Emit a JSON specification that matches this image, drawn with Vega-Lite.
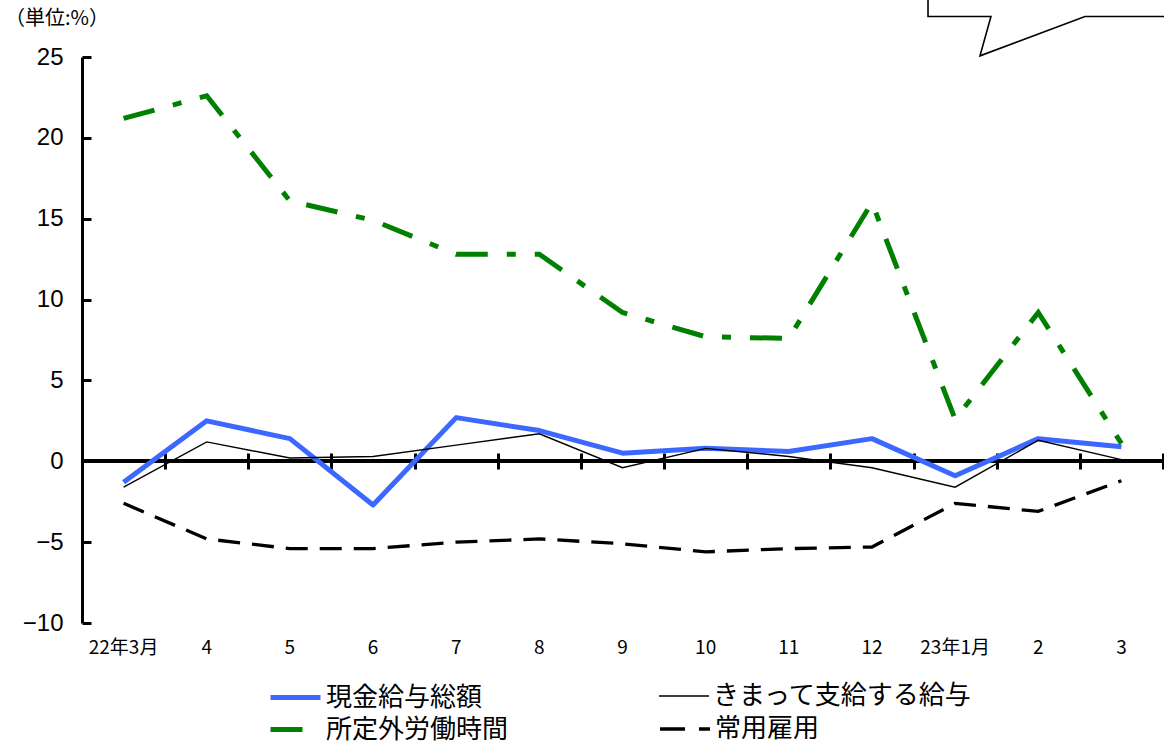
{
  "$schema": "https://vega.github.io/schema/vega-lite/v6.json",
  "width": 1081,
  "height": 566,
  "autosize": {"type": "none"},
  "padding": {"left": 82, "top": 57, "right": 1, "bottom": 120},
  "background": "white",
  "config": {
    "view": {"stroke": null},
    "font": "Liberation Sans",
    "title": {"fontSize": 20, "font": "Noto Sans CJK JP", "fontWeight": "normal", "color": "black"},
    "legend": {
      "orient": "none",
      "padding": 0,
      "symbolType": "stroke",
      "symbolSize": 2500,
      "labelFont": "Noto Sans CJK JP",
      "labelFontSize": 26,
      "labelColor": "black",
      "labelOffset": 3,
      "labelLimit": 400
    }
  },
  "title": {
    "text": "（単位:%）",
    "anchor": "start",
    "frame": "group",
    "dx": -77,
    "offset": 0,
    "dy": 53,
    "baseline": "bottom",
    "fontSize": 20
  },
  "datasets": {
    "series": [
      {"month": "22年3月", "series": "現金給与総額", "value": -1.3},
      {"month": "4", "series": "現金給与総額", "value": 2.5},
      {"month": "5", "series": "現金給与総額", "value": 1.4},
      {"month": "6", "series": "現金給与総額", "value": -2.7},
      {"month": "7", "series": "現金給与総額", "value": 2.7},
      {"month": "8", "series": "現金給与総額", "value": 1.9},
      {"month": "9", "series": "現金給与総額", "value": 0.5},
      {"month": "10", "series": "現金給与総額", "value": 0.8},
      {"month": "11", "series": "現金給与総額", "value": 0.6},
      {"month": "12", "series": "現金給与総額", "value": 1.4},
      {"month": "23年1月", "series": "現金給与総額", "value": -0.9},
      {"month": "2", "series": "現金給与総額", "value": 1.4},
      {"month": "3", "series": "現金給与総額", "value": 0.9},
      {"month": "22年3月", "series": "きまって支給する給与", "value": -1.6},
      {"month": "4", "series": "きまって支給する給与", "value": 1.2},
      {"month": "5", "series": "きまって支給する給与", "value": 0.2},
      {"month": "6", "series": "きまって支給する給与", "value": 0.3},
      {"month": "7", "series": "きまって支給する給与", "value": 1.0},
      {"month": "8", "series": "きまって支給する給与", "value": 1.7},
      {"month": "9", "series": "きまって支給する給与", "value": -0.4},
      {"month": "10", "series": "きまって支給する給与", "value": 0.8},
      {"month": "11", "series": "きまって支給する給与", "value": 0.3},
      {"month": "12", "series": "きまって支給する給与", "value": -0.4},
      {"month": "23年1月", "series": "きまって支給する給与", "value": -1.6},
      {"month": "2", "series": "きまって支給する給与", "value": 1.3},
      {"month": "3", "series": "きまって支給する給与", "value": 0.1},
      {"month": "22年3月", "series": "所定外労働時間", "value": 21.2},
      {"month": "4", "series": "所定外労働時間", "value": 22.6},
      {"month": "5", "series": "所定外労働時間", "value": 16.1},
      {"month": "6", "series": "所定外労働時間", "value": 14.9},
      {"month": "7", "series": "所定外労働時間", "value": 12.8},
      {"month": "8", "series": "所定外労働時間", "value": 12.8},
      {"month": "9", "series": "所定外労働時間", "value": 9.2},
      {"month": "10", "series": "所定外労働時間", "value": 7.7},
      {"month": "11", "series": "所定外労働時間", "value": 7.6},
      {"month": "12", "series": "所定外労働時間", "value": 16.0},
      {"month": "23年1月", "series": "所定外労働時間", "value": 2.6},
      {"month": "2", "series": "所定外労働時間", "value": 9.2},
      {"month": "3", "series": "所定外労働時間", "value": 1.1},
      {"month": "22年3月", "series": "常用雇用", "value": -2.6},
      {"month": "4", "series": "常用雇用", "value": -4.8},
      {"month": "5", "series": "常用雇用", "value": -5.4},
      {"month": "6", "series": "常用雇用", "value": -5.4},
      {"month": "7", "series": "常用雇用", "value": -5.0},
      {"month": "8", "series": "常用雇用", "value": -4.8},
      {"month": "9", "series": "常用雇用", "value": -5.1},
      {"month": "10", "series": "常用雇用", "value": -5.6},
      {"month": "11", "series": "常用雇用", "value": -5.4},
      {"month": "12", "series": "常用雇用", "value": -5.3},
      {"month": "23年1月", "series": "常用雇用", "value": -2.6},
      {"month": "2", "series": "常用雇用", "value": -3.1},
      {"month": "3", "series": "常用雇用", "value": -1.2}
    ],
    "callout": [
      {"ord": 0, "cx": 10.174, "cy": 28.6},
      {"ord": 1, "cx": 10.174, "cy": 27.5},
      {"ord": 2, "cx": 10.931, "cy": 27.5},
      {"ord": 3, "cx": 10.799, "cy": 25.07},
      {"ord": 4, "cx": 12.062, "cy": 27.5},
      {"ord": 5, "cx": 13.05, "cy": 27.5}
    ]
  },
  "layer": [
    {
      "data": {"name": "series"},
      "encoding": {
        "x": {
          "field": "month",
          "type": "nominal",
          "sort": ["22年3月", "4", "5", "6", "7", "8", "9", "10", "11", "12", "23年1月", "2", "3"],
          "scale": {"type": "band", "paddingInner": 0, "paddingOuter": 0},
          "axis": null
        },
        "y": {"field": "value", "type": "quantitative", "scale": {"domain": [-10, 25], "nice": false, "zero": false}}
      },
      "layer": [
        {
          "mark": {"type": "rule", "color": "black", "strokeWidth": 3.3},
          "encoding": {
            "x": null,
            "y": {"datum": 0, "type": "quantitative"}
          }
        },
        {
          "mark": {"type": "point", "opacity": 0},
          "encoding": {
            "x": {
              "field": "month",
              "type": "nominal",
              "sort": ["22年3月", "4", "5", "6", "7", "8", "9", "10", "11", "12", "23年1月", "2", "3"],
              "scale": {"type": "band", "paddingInner": 0, "paddingOuter": 0},
              "axis": {
                "orient": "bottom",
                "offset": -170,
                "domain": false,
                "labels": false,
                "grid": false,
                "ticks": true,
                "tickBand": "extent",
                "tickSize": 16,
                "tickWidth": 3,
                "tickColor": "black",
                "title": null
              }
            }
          }
        },
        {
          "transform": [{"filter": "datum.series === '現金給与総額'"}],
          "mark": {"type": "line", "strokeWidth": 5, "strokeCap": "butt", "strokeJoin": "round"},
          "encoding": {
            "x": {
              "field": "month",
              "type": "nominal",
              "sort": ["22年3月", "4", "5", "6", "7", "8", "9", "10", "11", "12", "23年1月", "2", "3"],
              "scale": {"type": "band", "paddingInner": 0, "paddingOuter": 0},
              "axis": {
                "orient": "bottom",
                "domain": false,
                "ticks": false,
                "grid": false,
                "labelAngle": 0,
                "labelPadding": 15,
                "labelFont": "Noto Sans CJK JP",
                "labelFontSize": 19,
                "labelColor": "black",
                "title": null
              }
            },
            "y": {
              "field": "value",
              "type": "quantitative",
              "axis": {
                "values": [-10, -5, 0, 5, 10, 15, 20, 25],
                "grid": false,
                "domainColor": "black",
                "domainWidth": 3,
                "tickColor": "black",
                "tickWidth": 3,
                "tickSize": -9,
                "labelPadding": 28,
                "labelFont": "Liberation Sans",
                "labelFontSize": 24,
                "labelColor": "black",
                "title": null
              }
            },
            "color": {
              "datum": "現金給与総額",
              "type": "nominal",
              "scale": {"range": ["#3d68ff"]},
              "legend": {"title": null, "legendX": 186, "legendY": 613, "symbolStrokeWidth": 5}
            }
          }
        },
        {
          "transform": [{"filter": "datum.series === 'きまって支給する給与'"}],
          "mark": {"type": "line", "strokeWidth": 1.4, "strokeCap": "butt", "strokeJoin": "miter"},
          "encoding": {
            "color": {
              "datum": "きまって支給する給与",
              "type": "nominal",
              "scale": {"range": ["black"]},
              "legend": {"title": null, "legendX": 576, "legendY": 613, "symbolStrokeWidth": 1.4}
            }
          }
        },
        {
          "transform": [{"filter": "datum.series === '所定外労働時間'"}],
          "mark": {"type": "line", "strokeWidth": 5, "strokeDash": [32, 19, 9, 19], "strokeCap": "butt", "strokeJoin": "miter"},
          "encoding": {
            "color": {
              "datum": "所定外労働時間",
              "type": "nominal",
              "scale": {"range": ["#008000"]},
              "legend": {"title": null, "legendX": 186, "legendY": 645, "symbolStrokeWidth": 5, "symbolDash": [32, 19, 9, 19]}
            }
          }
        },
        {
          "transform": [{"filter": "datum.series === '常用雇用'"}],
          "mark": {"type": "line", "strokeWidth": 3.3, "strokeDash": [22, 12], "strokeCap": "butt", "strokeJoin": "miter"},
          "encoding": {
            "color": {
              "datum": "常用雇用",
              "type": "nominal",
              "scale": {"range": ["black"]},
              "legend": {"title": null, "legendX": 576, "legendY": 645, "symbolStrokeWidth": 3.3, "symbolDash": [25, 14]}
            }
          }
        }
      ],
      "resolve": {"axis": {"x": "independent"}, "scale": {"color": "independent"}}
    },
    {
      "data": {"name": "callout"},
      "mark": {"type": "line", "color": "black", "strokeWidth": 1.6, "clip": false, "strokeJoin": "miter"},
      "encoding": {
        "x": {"field": "cx", "type": "quantitative", "scale": {"domain": [0, 13], "nice": false, "zero": false}, "axis": null},
        "y": {"field": "cy", "type": "quantitative", "scale": {"domain": [-10, 25], "nice": false}},
        "order": {"field": "ord", "type": "quantitative"}
      }
    }
  ],
  "resolve": {"scale": {"x": "independent"}}
}
